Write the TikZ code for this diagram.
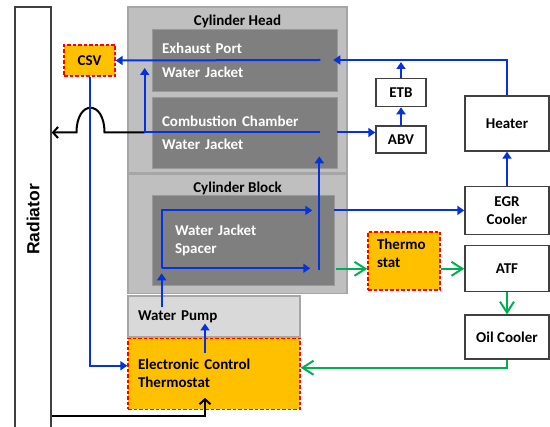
\documentclass[tikz,border=0pt]{standalone}
\usepackage{fontspec}
\setmainfont{Carlito}
\newfontfamily\radfont{Liberation Sans}
\usetikzlibrary{positioning,arrows.meta}
\definecolor{flowblue}{RGB}{5,50,220}
\definecolor{flowgreen}{RGB}{0,176,80}
\definecolor{headgray}{RGB}{191,191,191}
\definecolor{jacketgray}{RGB}{127,127,127}
\definecolor{pumpgray}{RGB}{217,217,217}
\definecolor{valveorange}{RGB}{255,192,0}

\begin{document}
\begin{tikzpicture}[
	x=1pt, y=-1pt,
	font=\fontsize{15}{18}\selectfont\bfseries,
	engine/.style={rectangle, draw=black!35, fill=headgray, line width=1.2pt, inner sep=0pt},
	jacket/.style={rectangle, draw=black!40, fill=jacketgray, line width=0.6pt, text=white, align=left, inner xsep=10pt, inner ysep=0pt},
	valve/.style={rectangle, draw=red, dash pattern=on 3.5pt off 2pt, line width=1.3pt, fill=valveorange, inner ysep=0pt},
	part/.style={rectangle, draw=black!75, fill=white, line width=1.4pt, align=center, inner sep=0pt},
	coolant/.style={-{Triangle[length=7pt,width=9pt]}, line width=2pt, draw=flowblue},
	oilflow/.style={-{Straight Barb[length=11pt,width=14pt]}, line width=2pt, draw=flowgreen},
	hot/.style={-{Straight Barb[length=5pt,width=11pt]}, line width=2pt, draw=black}
]
\useasboundingbox (0,0) rectangle (550,427);
\node (radiator) [part, minimum width=36pt, minimum height=425pt] at (33,219.5) {\radfont\fontsize{17.5}{20}\selectfont\bfseries\rotatebox{90}{Radiator}};
\node (csv) [valve, minimum width=51pt, minimum height=31pt] at (89.5,60.5) {CSV};
\node (head) [engine, minimum width=219pt, minimum height=166pt, label={[anchor=north, yshift=-5pt]north:Cylinder Head}] at (237.5,90) {};
\node (block) [engine, minimum width=219pt, minimum height=119pt, below=0pt of head, label={[anchor=north, yshift=-5pt]north:Cylinder Block}] {};
\node (exhaust) [jacket, text width=165pt, minimum height=62pt] at (244.5,60) {Exhaust Port\\[6pt]Water Jacket};
\node (combustion) [jacket, text width=165pt, minimum height=71pt] at (244.5,132.5) {Combustion Chamber\\[5pt]Water Jacket};
\node (spacer) [jacket, inner xsep=23pt, text width=136pt, minimum height=90pt] at (243,240) {Water Jacket\\Spacer};
\node (pump) [engine, fill=pumpgray, inner xsep=10pt, text width=152pt, minimum height=41pt, align=left] at (214,316.5) {Water Pump};
\node (ect) [valve, inner xsep=10pt, text width=152pt, minimum height=71pt, align=left, below=0pt of pump] {Electronic Control\\Thermostat};
\node (thermo) [valve, inner xsep=9pt, text width=54pt, minimum height=58pt, text depth=34pt, align=left] at (404,261) {Thermo\\stat};
\node (abv) [part, minimum width=50pt, minimum height=27pt] at (401,139.5) {ABV};
\node (etb) [part, minimum width=50pt, minimum height=28pt, above=18pt of abv] {ETB};
\node (heater) [part, minimum width=84pt, minimum height=55pt] at (507,123.5) {Heater};
\node (egr) [part, minimum width=84pt, minimum height=48pt, below=34pt of heater] {EGR\\Cooler};
\node (atf) [part, minimum width=84pt, minimum height=46pt, below=10pt of egr] {ATF};
\node (oil) [part, minimum width=84pt, minimum height=44pt, below=22pt of atf] {Oil Cooler};
\coordinate (hop) at (csv.south |- combustion.west);
\coordinate (loop) at ([xshift=10pt,yshift=17pt]spacer.south west);
\draw [hot] ([xshift=-7pt]combustion.west) -- ([xshift=15pt]hop) .. controls ([xshift=15pt,yshift=33pt]hop) and ([xshift=-13pt,yshift=33pt]hop) .. ([xshift=-13pt]hop) -- (radiator.east |- hop);
\draw [hot] ([yshift=17pt]radiator.south east) -| ([xshift=-9pt,yshift=12pt]ect.south);
\draw [coolant] (heater.north) |- ([xshift=-4pt]exhaust.east);
\draw [coolant] ([xshift=-17pt]exhaust.east) -- (csv.east);
\draw [coolant] ([xshift=-17pt]combustion.east) -| ([xshift=-7pt,yshift=-8pt]exhaust.west);
\draw [coolant] (combustion.east) -- (combustion.east -| abv.west);
\draw [coolant] (abv) -- (etb);
\draw [coolant] (etb) -- ([yshift=-2pt]etb |- exhaust.east);
\draw [coolant] (egr) -- (heater);
\draw [coolant] (spacer.east |- egr.west) -- (egr.west);
\draw [coolant] (loop) |- ([xshift=-22pt]spacer.east |- egr.west);
\draw [coolant] (loop) -- ([xshift=-24pt]spacer.east |- loop);
\draw [coolant] ([yshift=9pt]pump.center -| loop) -- ([yshift=-5pt]loop);
\draw [coolant] ([xshift=-15pt,yshift=-2pt]spacer.east |- loop) -- ([xshift=-18pt,yshift=12pt]combustion.south east);
\draw [coolant] ([xshift=-9pt,yshift=-15pt]ect.north) -- ([xshift=-9pt,yshift=-7pt]pump.center);
\draw [coolant] (csv.south) |- ([yshift=8pt]ect.west);
\draw [oilflow] ([xshift=2pt]spacer.east |- atf.west) -- (thermo.west |- atf.west);
\draw [oilflow] (thermo.east |- atf.west) -- (atf.west);
\draw [oilflow] (atf) -- (oil);
\draw [oilflow] (oil.south) |- ([yshift=6pt]ect.east);
\end{tikzpicture}
\end{document}
